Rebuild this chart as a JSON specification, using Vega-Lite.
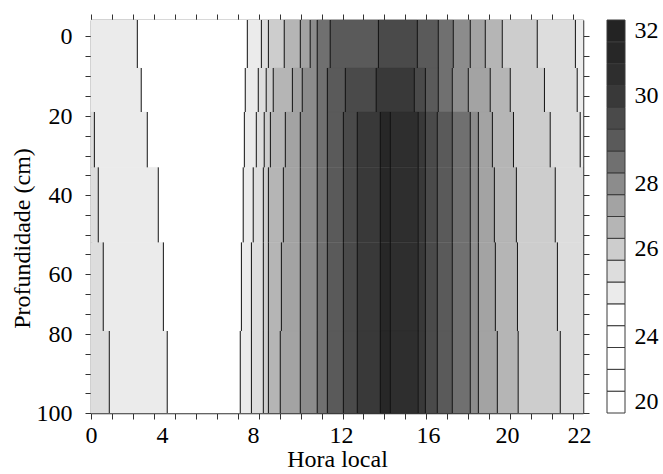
{
  "$schema": "https://vega.github.io/schema/vega-lite/v6.json",
  "padding": {"left": 10, "top": 13, "right": 5, "bottom": 1},
  "background": "white",
  "config": {
    "font": "Liberation Serif",
    "view": {"stroke": null},
    "axis": {"labelFont": "Liberation Serif", "titleFont": "Liberation Serif", "labelColor": "#000", "titleColor": "#000", "titleFontWeight": "normal", "tickColor": "#333", "domainColor": "#333", "grid": false, "labelFontSize": 24, "titleFontSize": 24}
  },
  "datasets": {
    "bands": [
      {"h0":0,"h1":2.61,"d0":-4,"d1":8,"t":25.1},{"h0":2.61,"h1":7.75,"d0":-4,"d1":8,"t":24.5},{"h0":7.75,"h1":8.38,"d0":-4,"d1":8,"t":25.1},{"h0":8.38,"h1":8.70,"d0":-4,"d1":8,"t":25.7},{"h0":8.70,"h1":9.42,"d0":-4,"d1":8,"t":26.3},{"h0":9.42,"h1":10.15,"d0":-4,"d1":8,"t":26.9},{"h0":10.15,"h1":10.60,"d0":-4,"d1":8,"t":27.5},{"h0":10.60,"h1":10.92,"d0":-4,"d1":8,"t":28.1},{"h0":10.92,"h1":11.51,"d0":-4,"d1":8,"t":28.7},{"h0":11.51,"h1":13.72,"d0":-4,"d1":8,"t":29.3},{"h0":13.72,"h1":15.51,"d0":-4,"d1":8,"t":29.9},{"h0":15.51,"h1":16.52,"d0":-4,"d1":8,"t":29.3},{"h0":16.52,"h1":17.28,"d0":-4,"d1":8,"t":28.7},{"h0":17.28,"h1":18.14,"d0":-4,"d1":8,"t":28.1},{"h0":18.14,"h1":18.90,"d0":-4,"d1":8,"t":27.5},{"h0":18.90,"h1":19.76,"d0":-4,"d1":8,"t":26.9},{"h0":19.76,"h1":20.84,"d0":-4,"d1":8,"t":26.3},{"h0":20.84,"h1":21.90,"d0":-4,"d1":8,"t":25.7},{"h0":21.90,"h1":22.1,"d0":-4,"d1":8,"t":25.1},

      {"h0":0,"h1":2.83,"d0":8,"d1":19,"t":25.1},{"h0":2.83,"h1":7.66,"d0":8,"d1":19,"t":24.5},{"h0":7.66,"h1":8.24,"d0":8,"d1":19,"t":25.1},{"h0":8.24,"h1":8.60,"d0":8,"d1":19,"t":25.7},{"h0":8.60,"h1":8.92,"d0":8,"d1":19,"t":26.3},{"h0":8.92,"h1":9.79,"d0":8,"d1":19,"t":26.9},{"h0":9.79,"h1":10.24,"d0":8,"d1":19,"t":27.5},{"h0":10.24,"h1":10.92,"d0":8,"d1":19,"t":28.1},{"h0":10.92,"h1":11.38,"d0":8,"d1":19,"t":28.7},{"h0":11.38,"h1":12.20,"d0":8,"d1":19,"t":29.3},{"h0":12.20,"h1":13.62,"d0":8,"d1":19,"t":29.9},{"h0":13.62,"h1":15.37,"d0":8,"d1":19,"t":30.5},{"h0":15.37,"h1":15.88,"d0":8,"d1":19,"t":29.9},{"h0":15.88,"h1":16.52,"d0":8,"d1":19,"t":29.3},{"h0":16.52,"h1":17.23,"d0":8,"d1":19,"t":28.7},{"h0":17.23,"h1":18.04,"d0":8,"d1":19,"t":28.1},{"h0":18.04,"h1":19.15,"d0":8,"d1":19,"t":27.5},{"h0":19.15,"h1":20.09,"d0":8,"d1":19,"t":26.9},{"h0":20.09,"h1":21.04,"d0":8,"d1":19,"t":26.3},{"h0":21.04,"h1":21.95,"d0":8,"d1":19,"t":25.7},{"h0":21.95,"h1":22.1,"d0":8,"d1":19,"t":25.1},

      {"h0":0,"h1":0.19,"d0":19,"d1":33,"t":25.7},{"h0":0.19,"h1":3.17,"d0":19,"d1":33,"t":25.1},{"h0":3.17,"h1":7.62,"d0":19,"d1":33,"t":24.5},{"h0":7.62,"h1":8.15,"d0":19,"d1":33,"t":25.1},{"h0":8.15,"h1":8.51,"d0":19,"d1":33,"t":25.7},{"h0":8.51,"h1":8.79,"d0":19,"d1":33,"t":26.3},{"h0":8.79,"h1":9.47,"d0":19,"d1":33,"t":26.9},{"h0":9.47,"h1":10.15,"d0":19,"d1":33,"t":27.5},{"h0":10.15,"h1":10.92,"d0":19,"d1":33,"t":28.1},{"h0":10.92,"h1":11.38,"d0":19,"d1":33,"t":28.7},{"h0":11.38,"h1":12.11,"d0":19,"d1":33,"t":29.3},{"h0":12.11,"h1":12.75,"d0":19,"d1":33,"t":29.9},{"h0":12.75,"h1":13.81,"d0":19,"d1":33,"t":30.5},{"h0":13.81,"h1":14.27,"d0":19,"d1":33,"t":31.7},{"h0":14.27,"h1":15.55,"d0":19,"d1":33,"t":31.1},{"h0":15.55,"h1":15.88,"d0":19,"d1":33,"t":30.5},{"h0":15.88,"h1":16.47,"d0":19,"d1":33,"t":29.9},{"h0":16.47,"h1":17.23,"d0":19,"d1":33,"t":29.3},{"h0":17.23,"h1":18.14,"d0":19,"d1":33,"t":28.7},{"h0":18.14,"h1":18.55,"d0":19,"d1":33,"t":28.1},{"h0":18.55,"h1":19.26,"d0":19,"d1":33,"t":27.5},{"h0":19.26,"h1":20.18,"d0":19,"d1":33,"t":26.9},{"h0":20.18,"h1":21.20,"d0":19,"d1":33,"t":26.3},{"h0":21.20,"h1":22.03,"d0":19,"d1":33,"t":25.7},{"h0":22.03,"h1":22.1,"d0":19,"d1":33,"t":25.1},

      {"h0":0,"h1":0.41,"d0":33,"d1":52,"t":25.7},{"h0":0.41,"h1":3.79,"d0":33,"d1":52,"t":25.1},{"h0":3.79,"h1":7.57,"d0":33,"d1":52,"t":24.5},{"h0":7.57,"h1":8.01,"d0":33,"d1":52,"t":25.1},{"h0":8.01,"h1":8.47,"d0":33,"d1":52,"t":25.7},{"h0":8.47,"h1":8.70,"d0":33,"d1":52,"t":26.3},{"h0":8.70,"h1":9.38,"d0":33,"d1":52,"t":26.9},{"h0":9.38,"h1":10.15,"d0":33,"d1":52,"t":27.5},{"h0":10.15,"h1":10.92,"d0":33,"d1":52,"t":28.1},{"h0":10.92,"h1":11.38,"d0":33,"d1":52,"t":28.7},{"h0":11.38,"h1":12.11,"d0":33,"d1":52,"t":29.3},{"h0":12.11,"h1":12.75,"d0":33,"d1":52,"t":29.9},{"h0":12.75,"h1":13.81,"d0":33,"d1":52,"t":30.5},{"h0":13.81,"h1":14.27,"d0":33,"d1":52,"t":31.7},{"h0":14.27,"h1":15.55,"d0":33,"d1":52,"t":31.1},{"h0":15.55,"h1":15.88,"d0":33,"d1":52,"t":30.5},{"h0":15.88,"h1":16.47,"d0":33,"d1":52,"t":29.9},{"h0":16.47,"h1":17.23,"d0":33,"d1":52,"t":29.3},{"h0":17.23,"h1":18.14,"d0":33,"d1":52,"t":28.7},{"h0":18.14,"h1":18.55,"d0":33,"d1":52,"t":28.1},{"h0":18.55,"h1":19.36,"d0":33,"d1":52,"t":27.5},{"h0":19.36,"h1":20.26,"d0":33,"d1":52,"t":26.9},{"h0":20.26,"h1":21.34,"d0":33,"d1":52,"t":26.3},{"h0":21.34,"h1":22.1,"d0":33,"d1":52,"t":25.7},

      {"h0":0,"h1":0.69,"d0":52,"d1":79,"t":25.7},{"h0":0.69,"h1":4.06,"d0":52,"d1":79,"t":25.1},{"h0":4.06,"h1":7.49,"d0":52,"d1":79,"t":24.5},{"h0":7.49,"h1":7.93,"d0":52,"d1":79,"t":25.1},{"h0":7.93,"h1":8.47,"d0":52,"d1":79,"t":25.7},{"h0":8.47,"h1":8.70,"d0":52,"d1":79,"t":26.3},{"h0":8.70,"h1":9.29,"d0":52,"d1":79,"t":26.9},{"h0":9.29,"h1":10.15,"d0":52,"d1":79,"t":27.5},{"h0":10.15,"h1":10.92,"d0":52,"d1":79,"t":28.1},{"h0":10.92,"h1":11.38,"d0":52,"d1":79,"t":28.7},{"h0":11.38,"h1":12.11,"d0":52,"d1":79,"t":29.3},{"h0":12.11,"h1":12.75,"d0":52,"d1":79,"t":29.9},{"h0":12.75,"h1":13.81,"d0":52,"d1":79,"t":30.5},{"h0":13.81,"h1":14.27,"d0":52,"d1":79,"t":31.7},{"h0":14.27,"h1":15.55,"d0":52,"d1":79,"t":31.1},{"h0":15.55,"h1":15.88,"d0":52,"d1":79,"t":30.5},{"h0":15.88,"h1":16.47,"d0":52,"d1":79,"t":29.9},{"h0":16.47,"h1":17.23,"d0":52,"d1":79,"t":29.3},{"h0":17.23,"h1":18.14,"d0":52,"d1":79,"t":28.7},{"h0":18.14,"h1":18.55,"d0":52,"d1":79,"t":28.1},{"h0":18.55,"h1":19.41,"d0":52,"d1":79,"t":27.5},{"h0":19.41,"h1":20.29,"d0":52,"d1":79,"t":26.9},{"h0":20.29,"h1":21.40,"d0":52,"d1":79,"t":26.3},{"h0":21.40,"h1":22.1,"d0":52,"d1":79,"t":25.7},

      {"h0":0,"h1":1.03,"d0":79,"d1":100,"t":25.7},{"h0":1.03,"h1":4.23,"d0":79,"d1":100,"t":25.1},{"h0":4.23,"h1":7.44,"d0":79,"d1":100,"t":24.5},{"h0":7.44,"h1":7.93,"d0":79,"d1":100,"t":25.1},{"h0":7.93,"h1":8.47,"d0":79,"d1":100,"t":25.7},{"h0":8.47,"h1":8.70,"d0":79,"d1":100,"t":26.3},{"h0":8.70,"h1":9.24,"d0":79,"d1":100,"t":26.9},{"h0":9.24,"h1":10.15,"d0":79,"d1":100,"t":27.5},{"h0":10.15,"h1":10.92,"d0":79,"d1":100,"t":28.1},{"h0":10.92,"h1":11.38,"d0":79,"d1":100,"t":28.7},{"h0":11.38,"h1":12.11,"d0":79,"d1":100,"t":29.3},{"h0":12.11,"h1":12.75,"d0":79,"d1":100,"t":29.9},{"h0":12.75,"h1":13.81,"d0":79,"d1":100,"t":30.5},{"h0":13.81,"h1":14.27,"d0":79,"d1":100,"t":31.7},{"h0":14.27,"h1":15.55,"d0":79,"d1":100,"t":31.1},{"h0":15.55,"h1":15.88,"d0":79,"d1":100,"t":30.5},{"h0":15.88,"h1":16.47,"d0":79,"d1":100,"t":29.9},{"h0":16.47,"h1":17.23,"d0":79,"d1":100,"t":29.3},{"h0":17.23,"h1":18.14,"d0":79,"d1":100,"t":28.7},{"h0":18.14,"h1":18.55,"d0":79,"d1":100,"t":28.1},{"h0":18.55,"h1":19.51,"d0":79,"d1":100,"t":27.5},{"h0":19.51,"h1":20.31,"d0":79,"d1":100,"t":26.9},{"h0":20.31,"h1":21.48,"d0":79,"d1":100,"t":26.3},{"h0":21.48,"h1":22.1,"d0":79,"d1":100,"t":25.7}
    ],
    "levels": [
      {"k":0,"t":20.6},{"k":1,"t":21.8},{"k":2,"t":23.0},{"k":3,"t":23.9},{"k":4,"t":24.5},{"k":5,"t":25.1},{"k":6,"t":25.7},{"k":7,"t":26.3},{"k":8,"t":26.9},{"k":9,"t":27.5},{"k":10,"t":28.1},{"k":11,"t":28.7},{"k":12,"t":29.3},{"k":13,"t":29.9},{"k":14,"t":30.5},{"k":15,"t":31.1},{"k":16,"t":31.7},{"k":17,"t":32.3}
    ]
  },
  "bounds": "flush",
  "spacing": 24,
  "hconcat": [
    {
      "width": 492,
      "height": 393,
      "data": {"name": "bands"},
      "layer": [
        {
          "mark": {"type": "rect", "strokeWidth": 0.5},
          "encoding": {
            "x": {"field": "h0", "type": "quantitative",
                  "scale": {"domain": [0, 4, 8, 12, 16, 20, 22, 22.1], "range": [0, 71, 162, 250, 337, 416, 488, 492], "nice": false, "zero": false},
                  "axis": {"orient": "bottom", "title": "Hora local", "titleFont": "Liberation Serif", "labelFont": "Liberation Serif", "labelFontSize": 24, "titleFontSize": 24,
                           "values": [0, 1.18, 2.36, 3.54, 4, 4.56, 5.49, 6.41, 7.33, 8, 8.26, 9.21, 10.16, 11.12, 12, 12.07, 13.03, 13.99, 14.96, 15.93, 16, 16.98, 18.04, 19.10, 20, 20.09, 20.67, 21.25, 21.84, 22],
                           "labelExpr": "indexof([0,4,8,12,16,20,22], datum.value) >= 0 ? datum.label : ''",
                           "tickOpacity": {"condition": {"test": "indexof([4,8,12,16,20,22], datum.value) >= 0", "value": 0}, "value": 1},
                           "tickSize": 6, "labelPadding": 4, "titlePadding": 0, "labelOverlap": false, "labelFlush": false, "labelBound": false, "domainWidth": 1.5}},
            "x2": {"field": "h1"},
            "y": {"field": "d0", "type": "quantitative",
                  "scale": {"domain": [-4, 0, 20, 40, 60, 80, 100], "range": [0, 16, 96, 175, 254, 314, 393], "nice": false, "zero": false},
                  "axis": {"orient": "left", "title": "Profundidade (cm)", "titleFont": "Liberation Serif", "labelFont": "Liberation Serif", "labelFontSize": 24, "titleFontSize": 24, "titleY": 218,
                           "values": [0, 5, 10, 15, 20, 25, 30, 35, 40, 45, 50, 55, 60, 66.7, 73.3, 80, 85, 90, 95, 100],
                           "labelExpr": "datum.value % 20 == 0 ? datum.label : ''", "tickSize": 6, "labelPadding": 13, "titlePadding": 2, "labelOverlap": false, "labelFlush": false, "labelBound": false, "domainWidth": 1.5}},
            "y2": {"field": "d1"},
            "color": {"field": "t", "type": "quantitative", "legend": null,
                      "scale": {"type": "threshold", "domain": [21.2, 22.4, 23.45, 24.2, 24.8, 25.4, 26, 26.6, 27.2, 27.8, 28.4, 29, 29.6, 30.2, 30.8, 31.4, 32],
                                "range": ["#ffffff", "#ffffff", "#ffffff", "#ffffff", "#ffffff", "#ebebeb", "#dddddd", "#cdcdcd", "#b5b5b5", "#a3a3a3", "#8c8c8c", "#707070", "#5a5a5a", "#4a4a4a", "#393939", "#2e2e2e", "#272727", "#232323"]}},
            "stroke": {"field": "t", "type": "quantitative", "legend": null,
                      "scale": {"type": "threshold", "domain": [21.2, 22.4, 23.45, 24.2, 24.8, 25.4, 26, 26.6, 27.2, 27.8, 28.4, 29, 29.6, 30.2, 30.8, 31.4, 32],
                                "range": ["#ffffff", "#ffffff", "#ffffff", "#ffffff", "#ffffff", "#ebebeb", "#dddddd", "#cdcdcd", "#b5b5b5", "#a3a3a3", "#8c8c8c", "#707070", "#5a5a5a", "#4a4a4a", "#393939", "#2e2e2e", "#272727", "#232323"]}}
          }
        },
        {
          "transform": [{"filter": "datum.h1 < 22.09"}],
          "mark": {"type": "rule", "color": "#111111", "strokeWidth": 1},
          "encoding": {
            "x": {"field": "h1", "type": "quantitative",
                  "axis": {"orient": "top", "title": null, "labels": false, "values": [0, 1.18, 2.36, 3.54, 4.56, 5.49, 6.41, 7.33, 8.26, 9.21, 10.16, 11.12, 12.07, 13.03, 13.99, 14.96, 15.93, 16.98, 18.04, 19.10, 20.09, 20.67, 21.25, 21.84], "tickSize": 6, "domainWidth": 1.5}},
            "y": {"field": "d0", "type": "quantitative",
                  "axis": {"orient": "right", "title": null, "labels": false, "values": [0, 5, 10, 15, 20, 25, 30, 35, 40, 45, 50, 55, 60, 66.7, 73.3, 80, 85, 90, 95, 100], "tickSize": 6, "domainWidth": 1.5}},
            "y2": {"field": "d1"}
          }
        }
      ],
      "resolve": {"axis": {"x": "independent", "y": "independent"}}
    },
    {
      "width": 18,
      "height": 393,
      "data": {"name": "levels"},
      "mark": {"type": "rect", "stroke": "#3a3a3a", "strokeWidth": 1},
      "encoding": {
        "y": {"field": "k", "type": "ordinal", "sort": "descending", "scale": {"paddingInner": 0, "paddingOuter": 0},
              "axis": {"orient": "right", "title": null, "ticks": false, "domain": false, "labelFont": "Liberation Serif", "labelFontSize": 24, "labelPadding": 9, "labelAngle": 0, "labelBaseline": "middle", "values": [0, 3, 7, 10, 14, 17],
                       "labelExpr": "datum.value == 0 ? '20' : datum.value == 3 ? '24' : datum.value == 7 ? '26' : datum.value == 10 ? '28' : datum.value == 14 ? '30' : '32'"}},
        "color": {"field": "t", "type": "quantitative", "legend": null,
                  "scale": {"type": "threshold", "domain": [21.2, 22.4, 23.45, 24.2, 24.8, 25.4, 26, 26.6, 27.2, 27.8, 28.4, 29, 29.6, 30.2, 30.8, 31.4, 32],
                            "range": ["#ffffff", "#ffffff", "#ffffff", "#ffffff", "#ffffff", "#ebebeb", "#dddddd", "#cdcdcd", "#b5b5b5", "#a3a3a3", "#8c8c8c", "#707070", "#5a5a5a", "#4a4a4a", "#393939", "#2e2e2e", "#272727", "#232323"]}}
      }
    }
  ]
}
